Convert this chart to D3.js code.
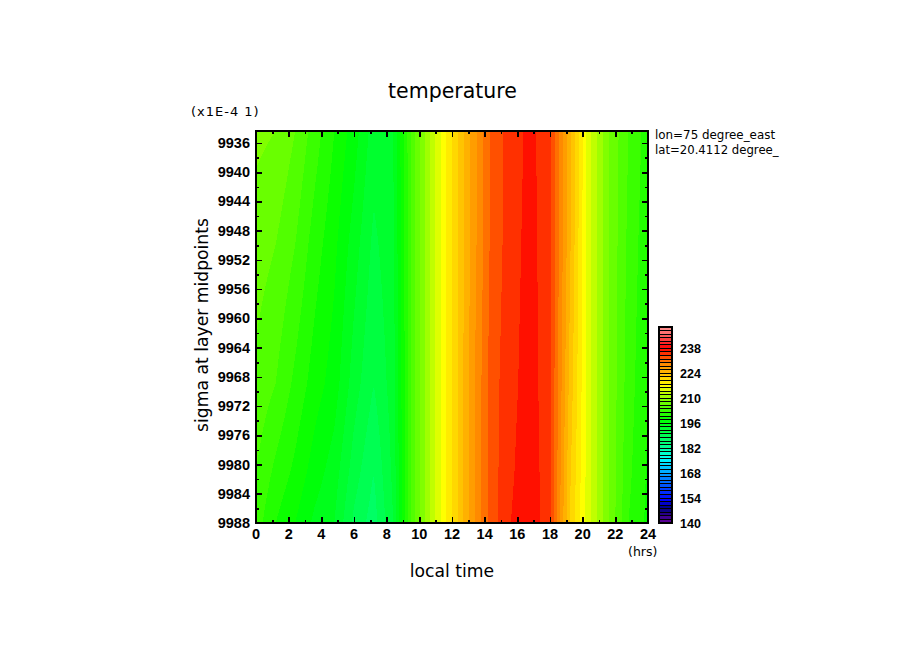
<!DOCTYPE html>
<html>
<head>
<meta charset="utf-8">
<script src="https://cdnjs.cloudflare.com/ajax/libs/d3/7.8.5/d3.min.js"></script>
<style>
  body { margin: 0; background: #fff; }
  text { font-family: "DejaVu Sans", sans-serif; fill: #000; }
  .num { font-family: "Liberation Sans", sans-serif; font-size: 14.5px; font-weight: bold; }
  .bar { font-size: 12.5px; }
</style>
</head>
<body>
<svg id="chart" width="904" height="654"></svg>
<script>
const hours = [0, 1.2, 2.4, 3.6, 4.8, 6, 7.2, 8.4, 9.6, 10.8, 12, 13.2, 14.4, 15.6, 16.8, 18, 19.2, 20.4, 21.6, 22.8, 24];
const sigmaLevels = [9934.36, 9950, 9969, 9981, 9988];

const tempTop = [208.5, 208, 206, 203, 200, 197, 193, 194, 205, 213, 220, 226.5, 232.5, 234.9, 236.6, 234.5, 225, 214.5, 208, 204, 201];
const temp9950 = [207, 206, 204, 201, 198.5, 195, 191.5, 193.5, 205, 213, 220, 226.5, 232.5, 235.1, 236.8, 234.5, 224.5, 214.5, 208, 203.5, 200.5];
const temp9969 = [205.5, 204, 201.5, 199, 197, 193, 190, 193, 205, 213, 220, 227, 233, 235.4, 237, 234.5, 223.5, 214.5, 208, 203, 200];
const temp9981 = [204, 201.5, 199.5, 197, 195, 191, 188, 192.5, 205, 213, 220, 227, 233, 235.7, 237.3, 234.5, 222.5, 214.5, 208, 202.5, 199.7];
const tempBottom = [203, 200, 198, 195.5, 194, 189.5, 187, 192, 205, 213, 220, 227, 233, 236, 237.5, 234.5, 222, 214.5, 208, 202, 199.5];
const tempRows = [tempTop, temp9950, temp9969, temp9981, tempBottom];

const bandStart = 140;
const bandStep = 2;
const bandCount = 55;
const legendLabels = [140, 154, 168, 182, 196, 210, 224, 238];
const colorStops = [140, 148, 153, 165, 176, 184, 198, 209, 217, 230, 238, 250];
const colorValues = ["#640096", "#000080", "#0000ff", "#0080ff", "#00ffff", "#00ff80", "#00ff00", "#80ff00", "#ffff00", "#ff8000", "#ff0000", "#ff9696"];

const svg = d3.select("#chart");
const x = d3.scaleLinear().domain([0, 24]).range([256, 648]);
const y = d3.scaleLinear().domain([9934.36, 9988]).range([131, 523]);
const legendY = d3.scaleLinear().domain([140, 250]).range([523, 327]);
const color = d3.scaleLinear().domain(colorStops).range(colorValues).interpolate(d3.interpolateRgb);

const thresholds = d3.range(bandCount).map(i => bandStart + i * bandStep);

// bilinear lookup, only used to feed the contour generator a regular grid
function lookup(h, s) {
  const i = Math.min(d3.bisectRight(hours, h) - 1, hours.length - 2);
  const j = Math.min(d3.bisectRight(sigmaLevels, s) - 1, sigmaLevels.length - 2);
  const u = (h - hours[i]) / (hours[i + 1] - hours[i]);
  const v = (s - sigmaLevels[j]) / (sigmaLevels[j + 1] - sigmaLevels[j]);
  const a = tempRows[j][i] * (1 - u) + tempRows[j][i + 1] * u;
  const b = tempRows[j + 1][i] * (1 - u) + tempRows[j + 1][i + 1] * u;
  return a * (1 - v) + b * v;
}

const nx = 393, ny = 393;
const grid = new Array(nx * ny);
for (let r = 0; r < ny; r++) {
  const s = y.invert(131 + r);
  for (let c = 0; c < nx; c++) {
    grid[r * nx + c] = lookup(x.invert(256 + c), s);
  }
}

const contours = d3.contours().size([nx, ny]).thresholds(thresholds)(grid);
const path = d3.geoPath(d3.geoTransform({
  point(px, py) { this.stream.point(256 + px - 0.5, 131 + py - 0.5); }
}));

svg.append("clipPath").attr("id", "plot-clip")
  .append("rect").attr("x", 256).attr("y", 131).attr("width", 392).attr("height", 392);

svg.append("g").attr("clip-path", "url(#plot-clip)")
  .selectAll("path")
  .data(contours)
  .join("path")
  .attr("d", path)
  .attr("fill", d => color(d.value + bandStep / 2))
  .attr("shape-rendering", "crispEdges");

// ticks on all four sides, pointing inward
const major = 6, minor = 3;
function ticks(axis, translate, vals, size) {
  const g = svg.append("g").attr("transform", translate)
    .call(axis.tickValues(vals).tickSize(size).tickSizeOuter(0).tickFormat(""));
  g.select(".domain").remove();
  g.selectAll("line").attr("stroke", "#000").attr("stroke-width", 1.6).attr("shape-rendering", "crispEdges");
  return g;
}
const xMajor = d3.range(0, 25, 2), xMinor = d3.range(1, 24, 2);
const yMajor = d3.range(9936, 9989, 4), yMinor = d3.range(9938, 9988, 4);
ticks(d3.axisTop(x), "translate(0,523)", xMajor, major);
ticks(d3.axisTop(x), "translate(0,523)", xMinor, minor);
ticks(d3.axisBottom(x), "translate(0,131)", xMajor, major);
ticks(d3.axisBottom(x), "translate(0,131)", xMinor, minor);
ticks(d3.axisRight(y), "translate(256,0)", yMajor, major);
ticks(d3.axisRight(y), "translate(256,0)", yMinor, minor);
ticks(d3.axisLeft(y), "translate(648,0)", yMajor, major);
ticks(d3.axisLeft(y), "translate(648,0)", yMinor, minor);

svg.append("rect").attr("x", 256).attr("y", 131).attr("width", 392).attr("height", 392)
  .attr("fill", "none").attr("stroke", "#000").attr("stroke-width", 2.6).attr("shape-rendering", "crispEdges");

// tick labels
svg.append("g").selectAll("text").data(xMajor).join("text")
  .attr("class", "num").attr("x", d => x(d)).attr("y", 539).attr("text-anchor", "middle").text(d => d);
svg.append("g").selectAll("text").data(yMajor).join("text")
  .attr("class", "num").attr("x", 250).attr("y", d => y(d) + 5).attr("text-anchor", "end").text(d => d);

// colour bar
const legend = svg.append("g");
legend.selectAll("rect").data(thresholds).join("rect")
  .attr("x", 659)
  .attr("width", 13)
  .attr("y", d => legendY(d + bandStep))
  .attr("height", d => legendY(d) - legendY(d + bandStep))
  .attr("fill", d => color(d + bandStep / 2))
  .attr("stroke", "#000")
  .attr("stroke-width", 1)
  .attr("shape-rendering", "crispEdges");
legend.append("rect").attr("x", 659).attr("y", 327).attr("width", 13).attr("height", 196)
  .attr("fill", "none").attr("stroke", "#000").attr("stroke-width", 2).attr("shape-rendering", "crispEdges");
legend.append("g").selectAll("text").data(legendLabels).join("text")
  .attr("class", "num bar").attr("x", 680).attr("y", d => legendY(d) + 5).text(d => d);

// titles and notes
svg.append("text").attr("x", 452.5).attr("y", 98).attr("text-anchor", "middle").attr("font-size", 20.5).text("temperature");
svg.append("text").attr("x", 452).attr("y", 577).attr("text-anchor", "middle").attr("font-size", 17.2).text("local time");
svg.append("text").attr("transform", "translate(208,325) rotate(-90)").attr("text-anchor", "middle").attr("font-size", 17.2).text("sigma at layer midpoints");
svg.append("text").attr("x", 191).attr("y", 116).attr("font-size", 13).attr("letter-spacing", 1).text("(x1E-4 1)");
svg.append("text").attr("x", 628).attr("y", 556).attr("font-size", 12.5).text("(hrs)");
svg.append("text").attr("x", 655).attr("y", 139).attr("font-size", 11.9).text("lon=75 degree_east");
svg.append("text").attr("x", 655).attr("y", 154).attr("font-size", 11.7).text("lat=20.4112 degree_");
</script>
</body>
</html>
